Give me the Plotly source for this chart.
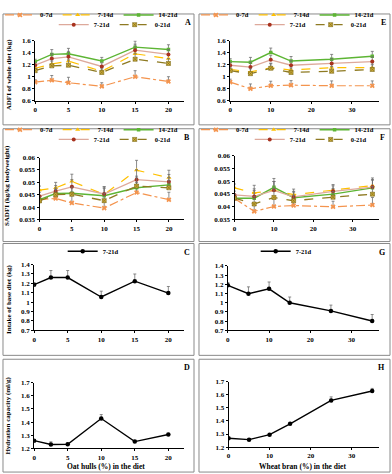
import plotly.graph_objects as go

W, H = 392, 474
FONT = "Liberation Serif"

# ---------------- data ----------------
periods = ["0-7d", "7-14d", "14-21d", "7-21d", "0-21d"]
oat_x = [0, 2.5, 5, 10, 15, 20]
bran_x = [0, 5, 10, 15, 25, 35]

# A: ADFI of whole diet (kg), oat hulls
adfi_oat_07 = [0.91, 0.94, 0.90, 0.84, 1.00, 0.92]
adfi_oat_714 = [1.14, 1.21, 1.26, 1.09, 1.38, 1.30]
adfi_oat_1421 = [1.25, 1.37, 1.38, 1.26, 1.49, 1.45]
adfi_oat_721 = [1.19, 1.30, 1.33, 1.17, 1.44, 1.37]
adfi_oat_021 = [1.10, 1.18, 1.19, 1.07, 1.29, 1.22]
adfi_oat_err = [0.04, 0.08, 0.09, 0.06, 0.10, 0.08]

# E: ADFI of whole diet (kg), wheat bran
adfi_bran_07 = [0.91, 0.80, 0.85, 0.86, 0.85, 0.85]
adfi_bran_714 = [1.12, 1.08, 1.15, 1.11, 1.15, 1.15]
adfi_bran_1421 = [1.25, 1.24, 1.40, 1.26, 1.29, 1.34]
adfi_bran_721 = [1.19, 1.16, 1.28, 1.19, 1.22, 1.25]
adfi_bran_021 = [1.10, 1.05, 1.14, 1.07, 1.09, 1.12]
adfi_bran_err = [0.05, 0.08, 0.075, 0.075, 0.08, 0.08]

# B: SADFI (kg/kg bodyweight), oat hulls
sadfi_oat_07 = [0.0430, 0.0435, 0.0417, 0.0396, 0.0459, 0.0430]
sadfi_oat_714 = [0.0469, 0.0478, 0.0504, 0.0451, 0.0549, 0.0519]
sadfi_oat_1421 = [0.0430, 0.0455, 0.0456, 0.0446, 0.0478, 0.0490]
sadfi_oat_721 = [0.0444, 0.0465, 0.0482, 0.0453, 0.0511, 0.0502]
sadfi_oat_021 = [0.0425, 0.0450, 0.0452, 0.0426, 0.0485, 0.0478]
sadfi_oat_err = [0.0016, 0.0022, 0.0029, 0.0030, 0.0040, 0.0030]

# F: SADFI (kg/kg bodyweight), wheat bran
sadfi_bran_07 = [0.0432, 0.0381, 0.0400, 0.0404, 0.0399, 0.0406]
sadfi_bran_714 = [0.0474, 0.0454, 0.0464, 0.0447, 0.0465, 0.0483]
sadfi_bran_1421 = [0.0433, 0.0433, 0.0476, 0.0435, 0.0449, 0.0474]
sadfi_bran_721 = [0.0446, 0.0440, 0.0464, 0.0438, 0.0460, 0.0477]
sadfi_bran_021 = [0.0433, 0.0410, 0.0436, 0.0423, 0.0437, 0.0449]
sadfi_bran_err = [0.0015, 0.0030, 0.0035, 0.0022, 0.0022, 0.0030]

# C / G: intake of base diet (kg), 7-21d
base_oat = [1.186, 1.262, 1.262, 1.055, 1.224, 1.097]
base_oat_err = [0.02, 0.075, 0.075, 0.062, 0.076, 0.07]
base_bran = [1.189, 1.098, 1.151, 0.999, 0.911, 0.802]
base_bran_err = [0.03, 0.074, 0.074, 0.063, 0.063, 0.07]

# D / H: hydration capacity (ml/g)
hyd_oat = [1.259, 1.230, 1.232, 1.427, 1.252, 1.306]
hyd_oat_err = [0.008, 0.02, 0.008, 0.03, 0.006, 0.008]
hyd_bran = [1.268, 1.257, 1.295, 1.378, 1.558, 1.630]
hyd_bran_err = [0.006, 0.006, 0.008, 0.008, 0.027, 0.02]

oat_ticks = [0, 5, 10, 15, 20]
bran_ticks = [0, 10, 20, 30]

# ---------------- styles ----------------
STYLE = {
    "0-7d": dict(line=dict(color="#F4944E", dash="dashdot", width=1.2),
                 marker=dict(symbol="x", size=4.5, color="#F4944E")),
    "7-14d": dict(line=dict(color="#FFC000", dash="dash", width=1.2),
                  marker=dict(symbol="triangle-up", size=4.5, color="#FFC000")),
    "14-21d": dict(line=dict(color="#5DB534", dash="solid", width=1.4),
                   marker=dict(symbol="square", size=3.5, color="#5DB534")),
    "7-21d": dict(line=dict(color="#DDA99B", dash="solid", width=1.3),
                  marker=dict(symbol="circle", size=4, color="#A8321E")),
    "0-21d": dict(line=dict(color="#8E7A22", dash="dash", width=1.3),
                  marker=dict(symbol="square-x", size=4, color="#D2B03A",
                              line=dict(color="#7A6818", width=0.6))),
}


def px_x(p):
    return p / W


def px_y(p):
    return 1 - p / H


fig = go.Figure()

tickfont = dict(family=FONT, size=7, color="black", weight="bold")


def add_axes(i, xdom, ydom, xrange, xticks, yrange, dtick):
    sfx = "" if i == 1 else str(i)
    fig.layout["xaxis" + sfx] = dict(
        domain=[px_x(xdom[0]), px_x(xdom[1])], range=xrange, tickvals=xticks,
        anchor="y" + sfx, showline=True, linecolor="black", linewidth=1,
        ticks="outside", ticklen=2, tickcolor="black", showgrid=False,
        zeroline=False, tickfont=tickfont, fixedrange=True)
    fig.layout["yaxis" + sfx] = dict(
        domain=[px_y(ydom[1]), px_y(ydom[0])], range=yrange, dtick=dtick,
        tick0=yrange[0], anchor="x" + sfx, showline=True, linecolor="black",
        linewidth=1, ticks="outside", ticklen=2, tickcolor="black",
        showgrid=False, zeroline=False, tickfont=tickfont, fixedrange=True)


def err(arr):
    return dict(type="data", array=arr, arrayminus=[0] * len(arr),
                symmetric=False, color="#6f6f6f", thickness=0.8, width=1.5)


def add_multi(i, xs, series, errs, legs):
    sfx = "" if i == 1 else str(i)
    for k, (name, ys) in enumerate(zip(periods, series)):
        st = STYLE[name]
        fig.add_trace(go.Scatter(
            x=xs, y=ys, name=name, mode="lines+markers",
            line=st["line"], marker=st["marker"], error_y=err(errs),
            xaxis="x" + sfx, yaxis="y" + sfx,
            legend=legs[0] if k < 3 else legs[1]))


def add_single(i, xs, ys, errs, leg):
    sfx = "" if i == 1 else str(i)
    fig.add_trace(go.Scatter(
        x=xs, y=ys, name="7-21d", mode="lines+markers",
        line=dict(color="black", width=1.4),
        marker=dict(symbol="circle", size=4.5, color="black"),
        error_y=err(errs), xaxis="x" + sfx, yaxis="y" + sfx,
        legend=leg, showlegend=leg is not None))


LX = [0, 22.3]
RX = [0, 36.6]

# A
add_axes(1, (33.3, 182.7), (28.3, 90.3), LX, oat_ticks, [0.6, 1.6], 0.2)
add_multi(1, oat_x, [adfi_oat_07, adfi_oat_714, adfi_oat_1421, adfi_oat_721, adfi_oat_021],
          adfi_oat_err, ("legend", "legend2"))
# B
add_axes(2, (37.7, 182.7), (148.7, 212.3), LX, oat_ticks, [0.035, 0.06], 0.005)
add_multi(2, oat_x, [sadfi_oat_07, sadfi_oat_714, sadfi_oat_1421, sadfi_oat_721, sadfi_oat_021],
          sadfi_oat_err, ("legend3", "legend4"))
# C
add_axes(3, (32.3, 182.7), (258.7, 326.3), LX, oat_ticks, [0.7, 1.4], 0.1)
add_single(3, oat_x, base_oat, base_oat_err, "legend9")
# D
add_axes(4, (32.3, 182.7), (380, 447.7), LX, oat_ticks, [1.2, 1.7], 0.1)
add_single(4, oat_x, hyd_oat, hyd_oat_err, None)
# E
add_axes(5, (229.3, 378.7), (28.3, 90.3), RX, bran_ticks, [0.6, 1.6], 0.2)
add_multi(5, bran_x, [adfi_bran_07, adfi_bran_714, adfi_bran_1421, adfi_bran_721, adfi_bran_021],
          adfi_bran_err, ("legend5", "legend6"))
# F
add_axes(6, (233.7, 378.7), (147, 212), RX, bran_ticks, [0.035, 0.06], 0.005)
add_multi(6, bran_x, [sadfi_bran_07, sadfi_bran_714, sadfi_bran_1421, sadfi_bran_721, sadfi_bran_021],
          sadfi_bran_err, ("legend7", "legend8"))
# G
add_axes(7, (227, 378.7), (260, 326.3), RX, bran_ticks, [0.7, 1.4], 0.1)
add_single(7, bran_x, base_bran, base_bran_err, "legend10")
# H
add_axes(8, (227.7, 378.7), (379.3, 446.3), RX, bran_ticks, [1.2, 1.7], 0.1)
add_single(8, bran_x, hyd_bran, hyd_bran_err, None)

# ---------------- legends ----------------
legfont = dict(family=FONT, size=6.5, color="black", weight="bold")


def leg(xp, yp):
    return dict(x=px_x(xp), y=px_y(yp), xanchor="left", yanchor="middle",
                orientation="h", font=legfont, bgcolor="rgba(0,0,0,0)",
                borderwidth=0, itemwidth=30, tracegroupgap=0,
                itemclick=False, itemdoubleclick=False)


fig.update_layout(
    legend=leg(-2, 2), legend2=leg(52, 12),
    legend3=leg(-2, 120), legend4=leg(52, 130),
    legend5=leg(195, 2), legend6=leg(249, 12),
    legend7=leg(195, 120), legend8=leg(249, 130),
    legend9=leg(61, 245), legend10=leg(255, 245),
)

# ---------------- borders & text ----------------
panels = [(1, 1, 193, 115), (1, 119, 193, 235), (1, 237, 193, 352), (1, 356, 193, 472),
          (198, 1, 390, 115), (198, 119, 390, 235), (198, 237, 390, 352), (198, 356, 390, 472)]
for x0, y0, x1, y1 in panels:
    fig.add_shape(type="rect", xref="paper", yref="paper",
                  x0=px_x(x0), x1=px_x(x1), y0=px_y(y1), y1=px_y(y0),
                  line=dict(color="#8a8a8a", width=1), layer="below")

anns = []


def txt(s, xp, yp, size=7.5, angle=0):
    anns.append(dict(text=s, x=px_x(xp), y=px_y(yp), xref="paper", yref="paper",
                     showarrow=False, textangle=angle, xanchor="center", yanchor="middle",
                     font=dict(family=FONT, size=size, color="black", weight="bold")))


for lab, xp, yp in [("A", 187, 10), ("B", 186, 128), ("C", 186, 246), ("D", 186, 364),
                    ("E", 383, 10), ("F", 382, 128), ("G", 382, 246), ("H", 381, 365)]:
    txt(lab, xp, yp, size=8)

txt("ADFI of whole diet (kg)", 7, 63, 7, -90)
txt("SADFI (kg/kg bodyweight)", 5, 177, 7, -90)
txt("Intake of base diet (kg)", 7, 294, 7, -90)
txt("Hydration capacity (ml/g)", 6, 414, 7, -90)
txt("Oat hulls (%) in the diet", 105, 466.5, 7.5)
txt("Wheat bran (%) in the diet", 302, 466, 7.5)

fig.update_layout(
    width=W, height=H, margin=dict(l=0, r=0, t=0, b=0),
    paper_bgcolor="white", plot_bgcolor="white", template="none",
    annotations=anns, font=dict(family=FONT, color="black"),
)

fig.write_html(
    "out.html",
    config={"displayModeBar": False},
    post_script="document.body.style.margin='0';document.body.style.overflow='hidden';",
)
